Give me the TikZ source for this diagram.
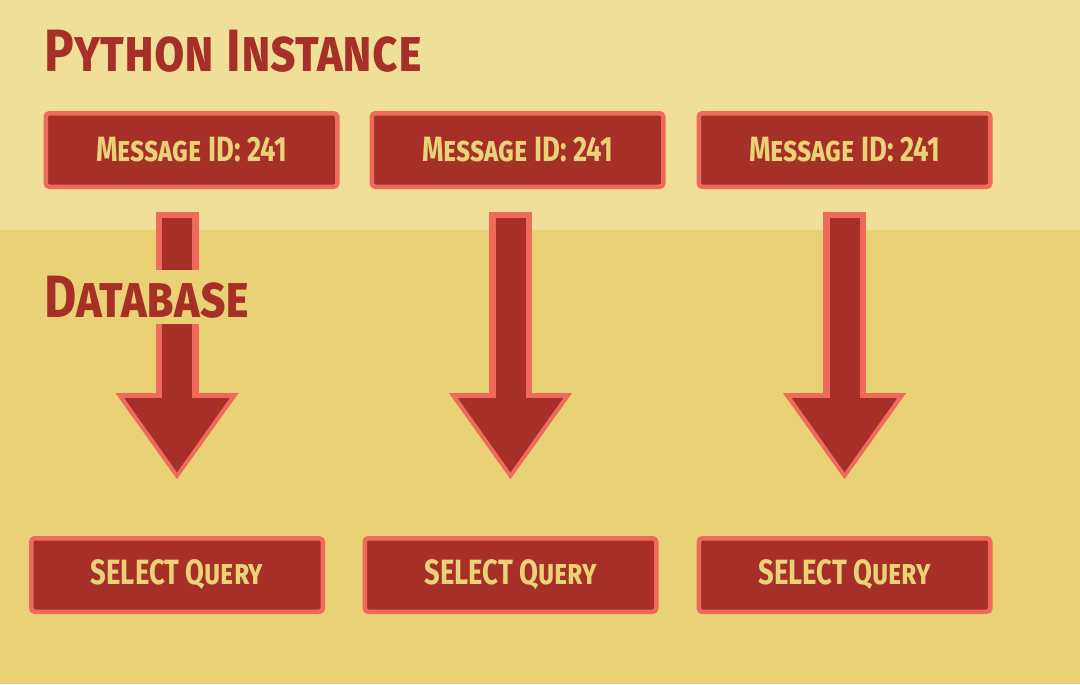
\documentclass[tikz,border=0pt]{standalone}
\usepackage{fontspec}
\setmainfont{Fira Sans}
\newfontfamily\pyfont{Fira Sans}[FakeStretch=0.78]
\newfontfamily\headfont{Fira Sans}[FakeStretch=0.83]
\usepackage{xcolor}
\usepackage{tikz}
\usetikzlibrary{arrows.meta, positioning, calc}

\definecolor{bgtop}{RGB}{240,223,152}
\definecolor{bgbot}{RGB}{233,210,118}
\definecolor{boxred}{RGB}{166,48,40}
\definecolor{rimred}{RGB}{240,106,92}
\definecolor{textyellow}{RGB}{234,210,120}

\begin{document}
\begin{tikzpicture}[
heading/.style={anchor=west, inner sep=0, text=boxred, font=\headfont\bfseries\scshape\fontsize{17}{17}\selectfont},
msg/.style={rectangle, draw=rimred, fill=boxred, line width=0.045cm, rounded corners=1pt, minimum width=2.915cm, minimum height=0.735cm, text=textyellow, font=\pyfont\bfseries\scshape\fontsize{10}{10}\selectfont},
bigarrow/.style={draw=rimred, line width=0.43cm, -{Triangle[length=0.87cm, width=1.17cm]}, postaction={draw=boxred, line width=0.3cm, shorten <=0.06cm, shorten >=0.07cm, -{Triangle[length=0.75cm, width=1.0cm]}}}
]
\fill[bgbot] (0,0) rectangle (10.8,-6.84);
\fill[bgtop] (0,0) rectangle (10.8,-2.3);

\node[heading] (t1) at (0.44,-0.51) {Python Instance};

\node[msg] (n1) at (1.915,-1.5) {Message ID: 241};
\node[msg] (n2) at (5.175,-1.5) {Message ID: 241};
\node[msg] (n3) at (8.445,-1.5) {Message ID: 241};

\node[msg] (n4) at (1.77,-5.75) {SELECT Query};
\node[msg] (n5) at (5.105,-5.75) {SELECT Query};
\node[msg] (n6) at (8.445,-5.75) {SELECT Query};

\draw[bigarrow] ($(n4.north |- n1.south)+(0,-0.23)$) -- ($(n4.north)+(0,0.56)$);
\draw[bigarrow] ($(n5.north |- n2.south)+(0,-0.23)$) -- ($(n5.north)+(0,0.56)$);
\draw[bigarrow] ($(n6.north |- n3.south)+(0,-0.23)$) -- ($(n6.north)+(0,0.56)$);

\node[heading, fill=bgbot, minimum height=0.54cm] (t2) at (0.44,-2.97) {Database};

\end{tikzpicture}
\end{document}
